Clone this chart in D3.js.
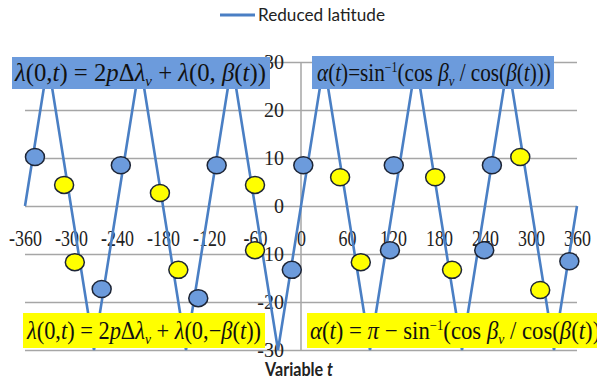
<!DOCTYPE html>
<html>
<head>
<meta charset="utf-8">
<script src="https://cdn.jsdelivr.net/npm/d3@7"></script>
<style>
  body { margin: 0; background: #fff; }
  svg { display: block; }
</style>
</head>
<body>
<div id="chart"></div>
<script>
// reduced latitude line (degrees vs variable t)
const lineT = [-360, -330, -270, -210, -150, -90, -30, 30, 90, 150, 210, 270, 330, 360];
const lineV = [0, 30, -30, 30, -30, 30, -30, 30, -30, 30, -30, 30, -30, 0];

// blue markers
const blueT = [-347, -235, -110, 3, 121, 249, -260, -134, -12, 116, 239, 350];
const blueV = [10.2, 8.5, 8.5, 8.5, 8.5, 8.5, -17.3, -19.2, -13.3, -9.2, -9.2, -11.5];

// yellow markers
const yellowT = [-309, -184, -60, 51, 175, 286, -295, -160, -60, 78, 197, 312];
const yellowV = [4.4, 2.7, 4.4, 6.0, 6.0, 10.2, -11.7, -13.3, -9.2, -11.7, -13.3, -17.5];

const xTicks = [-360, -300, -240, -180, -120, -60, 0, 60, 120, 180, 240, 300, 360];
const yTicks = [-30, -20, -10, 0, 10, 20, 30];
const legendLabel = "Reduced latitude";

const W = 597, H = 382,
    lineColor = "#4a7fc4",
    blueFill = "#6c9bdc",
    yellowFill = "#ffff00",
    gridColor = "#a6a6a6";

const svg = d3.select("#chart").append("svg")
    .attr("width", W)
    .attr("height", H);

const x = d3.scaleLinear().domain([-360, 360]).range([25, 577]);
const y = d3.scaleLinear().domain([-30, 30]).range([350, 62]);

// gridlines
svg.append("g")
    .attr("transform", `translate(${x(-360)},0)`)
    .call(d3.axisLeft(y).tickValues(yTicks).tickSize(-(x(360) - x(-360))).tickFormat(""))
    .call(g => g.select(".domain").remove())
    .selectAll("line")
    .attr("stroke", gridColor)
    .attr("stroke-width", 1.5);

// vertical axis line
svg.append("line")
    .attr("x1", x(0)).attr("x2", x(0))
    .attr("y1", y(30)).attr("y2", y(-30))
    .attr("stroke", gridColor)
    .attr("stroke-width", 1.5);

// y tick labels
svg.append("g")
    .attr("transform", `translate(${x(0)},0)`)
    .call(d3.axisLeft(y).tickValues(yTicks).tickSize(0).tickPadding(17).tickFormat(d => String(d)))
    .call(g => g.select(".domain").remove())
    .selectAll("text")
    .attr("font-family", "Liberation Serif")
    .attr("font-size", 20)
    .attr("fill", "#222");

// x tick labels
svg.append("g")
    .attr("transform", `translate(0,${y(0)})`)
    .call(d3.axisBottom(x).tickValues(xTicks).tickSize(0).tickPadding(24).tickFormat(d => String(d)))
    .call(g => g.select(".domain").remove())
    .selectAll("text")
    .attr("font-family", "Liberation Serif")
    .attr("font-size", 23)
    .attr("fill", "#222")
    .attr("transform", "scale(0.78,1)");

// the line
const line = d3.line().x(d => x(d[0])).y(d => y(d[1]));
svg.append("path")
    .attr("d", line(lineT.map((t, i) => [t, lineV[i]])))
    .attr("fill", "none")
    .attr("stroke", lineColor)
    .attr("stroke-width", 2.6);

// markers
function drawMarkers(ts, vs, fill) {
    svg.append("g")
        .selectAll("ellipse")
        .data(ts.map((t, i) => [t, vs[i]]))
        .enter()
        .append("ellipse")
        .attr("cx", d => x(d[0]))
        .attr("cy", d => y(d[1]))
        .attr("rx", 9.5)
        .attr("ry", 8.5)
        .attr("fill", fill)
        .attr("stroke", "#1d2536")
        .attr("stroke-width", 1.5);
}
drawMarkers(blueT, blueV, blueFill);
drawMarkers(yellowT, yellowV, yellowFill);

// formula boxes
function formula(parts, box, fill, tx, ty, tw) {
    svg.append("rect")
        .attr("x", box[0]).attr("y", box[1])
        .attr("width", box[2]).attr("height", box[3])
        .attr("fill", fill);

    const size = 25;
    const text = svg.append("text")
        .attr("font-family", "Liberation Serif")
        .attr("font-size", size)
        .attr("fill", "#111");
    let offset = 0;
    parts.forEach(p => {
        let target = 0, fs = size;
        if (p[1] === "sub") { target = 5; fs = 15; }
        if (p[1] === "sup") { target = -9; fs = 14; }
        text.append("tspan")
            .attr("dy", target - offset)
            .attr("font-size", fs)
            .attr("font-style", p[1] === "n" || p[1] === "sup" ? "normal" : "italic")
            .text(p[0]);
        offset = target;
    });
    const w = text.node().getBBox().width;
    text.attr("transform", `translate(${tx},${ty}) scale(${tw / w},1)`);
}

formula([["λ","i"],["(0,","n"],["t","i"],[") = 2","n"],["p","i"],["Δ","n"],["λ","i"],["v","sub"],[" + ","n"],
         ["λ","i"],["(0, ","n"],["β","i"],["(","n"],["t","i"],["))","n"]],
        [12, 57, 258, 32], blueFill, 15, 81, 252);

formula([["α","i"],["(","n"],["t","i"],[")=sin","n"],["−1","sup"],["(cos ","n"],["β","i"],["v","sub"],[" / cos(","n"],
         ["β","i"],["(","n"],["t","i"],[")))","n"]],
        [312, 56, 242, 33], blueFill, 317, 81, 234);

formula([["λ","i"],["(0,","n"],["t","i"],[") = 2","n"],["p","i"],["Δ","n"],["λ","i"],["v","sub"],[" + ","n"],
         ["λ","i"],["(0,","n"],["−","n"],["β","i"],["(","n"],["t","i"],["))","n"]],
        [23, 313, 242, 35], yellowFill, 27, 339, 235);

formula([["α","i"],["(","n"],["t","i"],[") = ","n"],["π","i"],[" − sin","n"],["−1","sup"],["(cos ","n"],["β","i"],["v","sub"],
         [" / cos(","n"],["β","i"],["(","n"],["t","i"],[")))","n"]],
        [307, 313, 295, 35], yellowFill, 310, 339, 298);

// legend
svg.append("line")
    .attr("x1", 220).attr("x2", 255)
    .attr("y1", 15).attr("y2", 15)
    .attr("stroke", lineColor)
    .attr("stroke-width", 3);
svg.append("text")
    .attr("x", 258).attr("y", 21)
    .attr("font-family", "Lato")
    .attr("font-size", 18)
    .attr("fill", "#222")
    .attr("textLength", 127)
    .attr("lengthAdjust", "spacingAndGlyphs")
    .text(legendLabel);

// axis title
const title = svg.append("text")
    .attr("x", 265).attr("y", 376)
    .attr("font-family", "Lato")
    .attr("font-weight", "bold")
    .attr("font-size", 18)
    .attr("fill", "#222")
    .attr("textLength", 68)
    .attr("lengthAdjust", "spacingAndGlyphs");
title.append("tspan").text("Variable ");
title.append("tspan").attr("font-style", "italic").text("t");
</script>
</body>
</html>
